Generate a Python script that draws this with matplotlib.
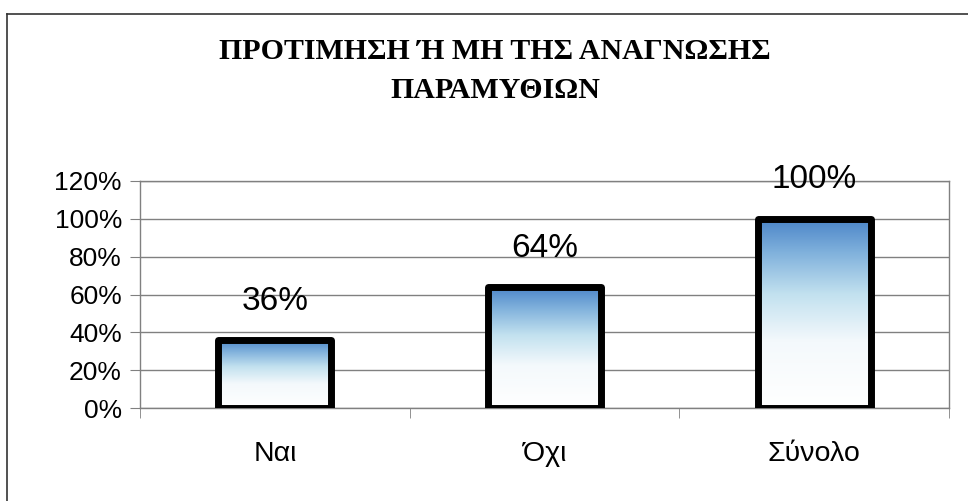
import matplotlib
matplotlib.use('Agg')
import matplotlib.pyplot as plt
import numpy as np
from matplotlib.colors import LinearSegmentedColormap
from matplotlib.lines import Line2D

# ── data ───────────────────────────────────────────────────────────────────────
categories = ['Ναι', 'Όχι', 'Σύνολο']
values = [36, 64, 100]
yticks = [0, 20, 40, 60, 80, 100, 120]
title = 'ΠΡΟΤΙΜΗΣΗ Ή ΜΗ ΤΗΣ ΑΝΑΓΝΩΣΗΣ\nΠΑΡΑΜΥΘΙΩΝ'

# ── figure ─────────────────────────────────────────────────────────────────────
plt.rcParams['font.family'] = ['Liberation Sans', 'DejaVu Sans']

fig = plt.figure(figsize=(9.68, 5.01), dpi=100)
ax = fig.add_axes([140 / 968, 93 / 501, 809 / 968, 227 / 501])

# outer chart frame (only top/left visible in the crop)
fig.add_artist(Line2D([7 / 968, 1.0], [1 - 14 / 501, 1 - 14 / 501],
                      transform=fig.transFigure, color='#333333', lw=1.2))
fig.add_artist(Line2D([7 / 968, 7 / 968], [0.0, 1 - 14 / 501],
                      transform=fig.transFigure, color='#333333', lw=1.2))

fig.text(495 / 968, 1 - 71 / 501, title, ha='center', va='center',
         family='Liberation Serif', fontweight='bold', fontsize=21.5,
         linespacing=1.55)

# gradient fill: white at the bottom, blue at the top of each bar
cmap = LinearSegmentedColormap.from_list(
    'bar_grad', [(0.0, '#ffffff'), (0.35, '#f4f9fc'), (0.6, '#c2e1ef'),
                 (0.82, '#80b1dc'), (1.0, '#4a84c8')])
grad = np.linspace(0, 1, 256).reshape(-1, 1)

x = np.arange(len(categories))
bw = 0.42
bars = ax.bar(x, values, width=bw, color='none', edgecolor='black',
              linewidth=5, joinstyle='round', zorder=3)
for b in bars:
    x0, y0 = b.get_x(), b.get_y()
    im = ax.imshow(grad, extent=[x0, x0 + b.get_width(), y0, y0 + b.get_height()],
                   origin='lower', aspect='auto', cmap=cmap, zorder=2)
    im.set_clip_path(b)

for xi, v in zip(x, values):
    ax.annotate(f'{v}%', (xi, v), xytext=(0, 28), textcoords='offset points',
                ha='center', va='center', fontsize=24, zorder=4)

ax.set_xlim(-0.5, len(categories) - 0.5)
ax.set_ylim(0, 120)
ax.set_yticks(yticks)
ax.set_yticklabels([f'{t}%' for t in yticks], fontsize=19)
ax.set_xticks(x)
ax.set_xticklabels(categories, fontsize=20.5)
ax.set_xticks(np.arange(-0.5, len(categories)), minor=True)
ax.tick_params(axis='x', which='major', length=0, pad=24)
ax.tick_params(axis='x', which='minor', length=7, color='#808080')
ax.tick_params(axis='y', length=7, color='#808080', pad=6)

ax.yaxis.grid(True, color='#808080', lw=1)
ax.set_axisbelow(True)
for side in ['left', 'bottom', 'right', 'top']:
    ax.spines[side].set_color('#808080')
    ax.spines[side].set_linewidth(1)

fig.savefig('out.png', dpi=100)
